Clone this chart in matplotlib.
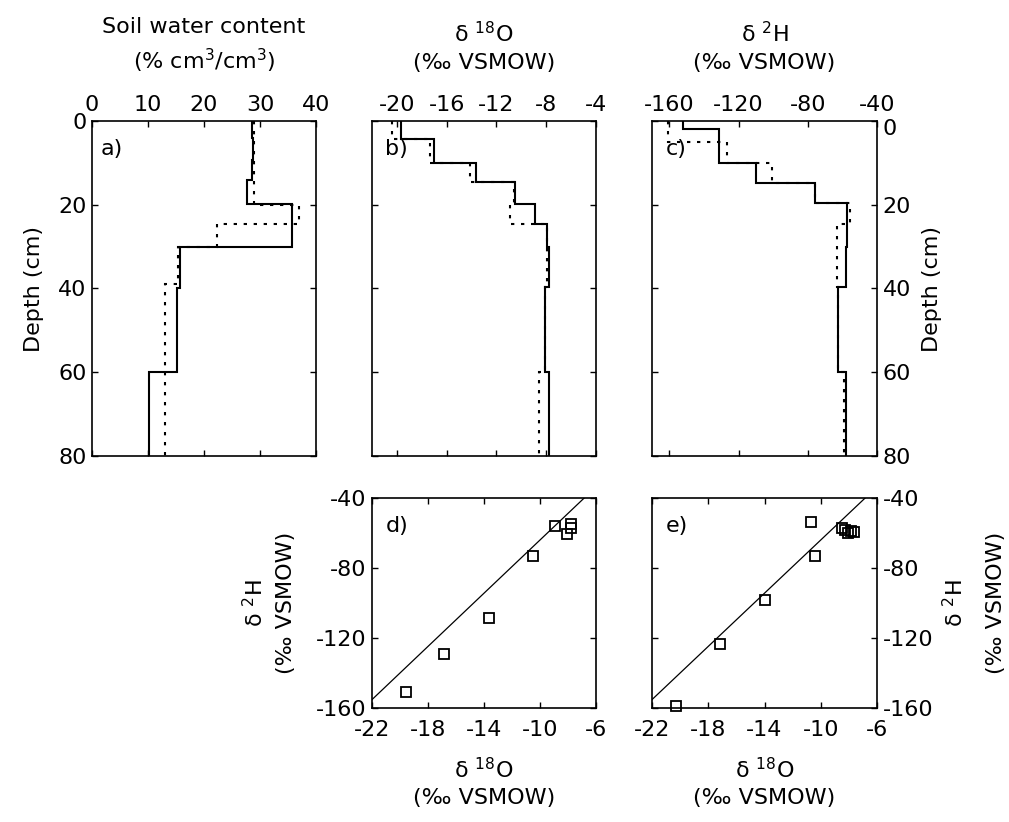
import matplotlib.pyplot as plt
import matplotlib.transforms as mtransforms

plt.rcParams['font.family'] = ['DejaVu Sans']
plt.rcParams['mathtext.fontset'] = 'dejavusans'
plt.rcParams['axes.unicode_minus'] = False

# depth profiles (cm) - step boundaries and values
swc_solid_depth = [0, 4.1, 9.3, 14, 19.8, 30, 40, 60, 80]
swc_solid = [28.5, 28.8, 28.5, 27.7, 35.7, 15.8, 15.2, 10.2]
swc_dot_depth = [0, 15, 20, 24.5, 30, 39, 80]
swc_dot = [29.0, 28.9, 37.0, 22.3, 15.4, 13.0]

o18_solid_depth = [0, 4.2, 10, 14.6, 19.8, 24.7, 30, 39.6, 60, 80]
o18_solid = [-19.67, -17.02, -13.67, -10.5, -8.9, -7.9, -7.75, -8.07, -7.77]
o18_dot_depth = [0, 4.2, 10, 14.6, 19.8, 24.7, 39.6, 60, 80]
o18_dot = [-20.4, -17.3, -14.1, -10.6, -10.9, -7.96, -8.07, -8.6]

h2_solid_depth = [0, 1.8, 10, 14.8, 19.7, 30, 39.6, 60, 80]
h2_solid = [-151.9, -131.3, -110.1, -75.9, -57.5, -58.0, -62.3, -58.0]
h2_dot_depth = [0, 5, 10, 14.8, 19.7, 24.5, 39.6, 60, 80]
h2_dot = [-160.6, -126.4, -100.8, -75.9, -55.6, -63.3, -62.3, -59.0]

# d18O vs d2H
d_o18 = [-19.57, -16.89, -13.61, -10.52, -8.90, -8.07, -7.81, -7.81]
d_h2 = [-150.9, -129.1, -108.6, -73.1, -55.8, -60.4, -54.7, -57.1]
e_o18 = [-20.28, -17.16, -14.0, -10.40, -10.71, -8.52, -8.28, -8.04, -7.85, -7.61]
e_h2 = [-158.7, -123.4, -98.3, -73.1, -53.7, -57.1, -58.1, -60.0, -59.0, -59.4]
line_slope = 7.6
line_icpt = 12.0
line_x = [-22, -6]

fs = 16
dotted = (0, (1.6, 3.2))

fig = plt.figure(figsize=(10.09, 8.22), dpi=100)
W, H = 1009, 822


def add_ax(x0, y0, x1, y1):
    return fig.add_axes([x0 / W, 1 - y1 / H, (x1 - x0) / W, (y1 - y0) / H])


def style(ax):
    ax.tick_params(direction='in', length=4, width=1, labelsize=fs,
                   top=True, bottom=True, left=True, right=True, pad=4)
    for s in ax.spines.values():
        s.set_linewidth(1.2)


ax_a = add_ax(92, 121, 316, 456)
ax_b = add_ax(372, 121, 596, 456)
ax_c = add_ax(652, 121, 877, 456)
ax_d = add_ax(372, 498, 596, 708)
ax_e = add_ax(652, 498, 877, 708)

profiles = [
    (ax_a, swc_solid_depth, swc_solid, swc_dot_depth, swc_dot, (0, 40), [0, 10, 20, 30, 40], 'a)',
     'Soil water content\n(% cm$^3$/cm$^3$)'),
    (ax_b, o18_solid_depth, o18_solid, o18_dot_depth, o18_dot, (-22, -4), [-20, -16, -12, -8, -4], 'b)',
     'δ $^{18}$O\n(‰ VSMOW)'),
    (ax_c, h2_solid_depth, h2_solid, h2_dot_depth, h2_dot, (-170, -40), [-160, -120, -80, -40], 'c)',
     'δ $^{2}$H\n(‰ VSMOW)'),
]

for ax, sd, sv, dd, dv, xl, xt, lab, title in profiles:
    ax.stairs(sv, sd, orientation='horizontal', baseline=None, color='black', lw=1.5)
    ax.stairs(dv, dd, orientation='horizontal', baseline=None, color='black', lw=1.5,
              linestyle=dotted)
    ax.set_xlim(*xl)
    ax.set_ylim(80, 0)
    ax.set_xticks(xt)
    ax.set_yticks([0, 20, 40, 60, 80])
    style(ax)
    ax.tick_params(labeltop=True, labelbottom=False)
    ax.xaxis.set_label_position('top')
    ax.set_xlabel(title, fontsize=fs, labelpad=19, linespacing=1.45)
    ax.text(0.04 if lab == 'a)' else 0.06, 0.915, lab, transform=ax.transAxes,
            fontsize=fs, va='center', ha='left')

ax_a.set_ylabel('Depth (cm)', fontsize=fs, labelpad=10)
ax_b.tick_params(labelleft=False)
ax_c.tick_params(labelleft=False, labelright=True)
ax_c.yaxis.set_label_position('right')
ax_c.set_ylabel('Depth (cm)', fontsize=fs, labelpad=8)

# the right "0" label of c sits a little lower, as in the original
fig.canvas.draw()
shift = mtransforms.ScaledTranslation(0, -6 / 100, fig.dpi_scale_trans)
first = ax_c.yaxis.get_major_ticks()[0]
first.label2.set_transform(first.label2.get_transform() + shift)

for ax, xs, ys, lab in [(ax_d, d_o18, d_h2, 'd)'), (ax_e, e_o18, e_h2, 'e)')]:
    ly = [line_slope * v + line_icpt for v in line_x]
    ax.plot(line_x, ly, color='black', lw=0.9)
    ax.plot(xs, ys, 's', mfc='none', mec='black', ms=7, mew=1.3, clip_on=False)
    ax.set_xlim(-22, -6)
    ax.set_ylim(-160, -40)
    ax.set_xticks([-22, -18, -14, -10, -6])
    ax.set_yticks([-160, -120, -80, -40])
    style(ax)
    ax.tick_params(axis='x', pad=9)
    ax.set_xlabel('δ $^{18}$O\n(‰ VSMOW)', fontsize=fs, labelpad=12, linespacing=1.35)
    ax.text(0.06, 0.865, lab, transform=ax.transAxes, fontsize=fs, va='center', ha='left')

ax_d.set_ylabel('δ $^{2}$H\n(‰ VSMOW)', fontsize=fs, labelpad=14, linespacing=1.6)
ax_e.tick_params(labelleft=False, labelright=True)
ax_e.yaxis.set_label_position('right')
ax_e.set_ylabel('δ $^{2}$H\n(‰ VSMOW)', fontsize=fs, labelpad=6, linespacing=2.2,
                rotation=90)

fig.savefig('out.png', dpi=100)
